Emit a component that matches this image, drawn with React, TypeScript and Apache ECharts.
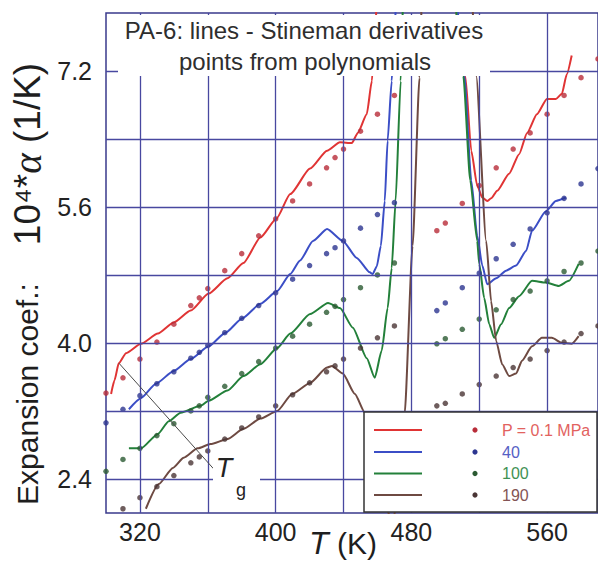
import React, { useEffect, useRef } from "react";
import * as echarts from "echarts";

// ---------- axis / tick values ----------
const xTickLabels = [320, 400, 480, 560];
const yTickLabels = [2.4, 4.0, 5.6, 7.2];
const xGridLines = [320, 360, 400, 440, 480, 520, 560];
const yGridLines = [2.4, 3.2, 4.0, 4.8, 5.6, 6.4, 7.2];

// ---------- lines (Stineman derivatives), [T (K), 10^4*alpha] ----------
const redLineLow = [[303, 3.4], [305, 3.56], [307.5, 3.76], [311.8, 3.88], [320.6, 3.99], [330.6, 4.11], [339.9, 4.24], [349.9, 4.38], [360.5, 4.58], [371.6, 4.76], [381, 4.94], [391, 5.24], [400.4, 5.46], [408.6, 5.75], [420.3, 6.05], [430.3, 6.26], [437.9, 6.36], [444.9, 6.35], [448.4, 6.47], [453.7, 6.69], [456.7, 7.08], [458.5, 7.6], [459.5, 8.0]];
const redLineHigh = [[506, 8.0], [511.8, 7.14], [515.3, 6.26], [518.8, 5.85], [521.8, 5.71], [524.7, 5.67], [527, 5.7], [530.6, 5.79], [537.6, 5.99], [543.5, 6.22], [548.2, 6.47], [554, 6.69], [559.9, 6.87], [565.2, 6.87], [568.7, 6.93], [571.6, 7.16], [574.5, 7.38]];
const blueLineLow = [[313.5, 3.22], [320.6, 3.35], [329.4, 3.52], [339.9, 3.67], [349.9, 3.81], [360.5, 3.96], [370.4, 4.12], [380.4, 4.29], [391, 4.46], [400.9, 4.61], [408.6, 4.81], [414.4, 4.97], [422, 5.2], [430.3, 5.34], [439.6, 5.2], [447.8, 5.0], [455.5, 4.83], [457.2, 4.81], [459.6, 4.9], [462, 5.14], [464.3, 5.67], [466, 6.38], [468.4, 7.08], [470, 7.7], [471, 8.0]];
const blueLineHigh = [[507, 8.0], [511.2, 7.14], [515.3, 5.91], [518.8, 5.26], [521.8, 4.91], [524.7, 4.69], [530, 4.76], [535.8, 4.85], [541.7, 4.91], [547.6, 5.08], [551.1, 5.32], [559.3, 5.55], [565.2, 5.67], [571, 5.71]];
const greenLineLow = [[313.5, 2.76], [320.6, 2.76], [330.6, 2.93], [337, 3.08], [344, 3.18], [355.8, 3.26], [360.5, 3.32], [371.6, 3.44], [381, 3.61], [391, 3.75], [400.9, 3.94], [408.6, 4.11], [420.3, 4.34], [430.9, 4.47], [437.9, 4.41], [445.5, 4.18], [453.7, 3.82], [458.4, 3.59], [462.5, 3.91], [466, 4.41], [468.4, 4.88], [470.7, 5.67], [473.7, 7.08], [475, 8.0]];
const greenLineHigh = [[506, 8.0], [510.6, 7.14], [514.7, 5.91], [518.8, 5.2], [520, 4.93], [522.9, 4.53], [525.9, 4.22], [528.8, 4.06], [532.9, 4.22], [537.6, 4.41], [543.5, 4.55], [551.1, 4.73], [559.3, 4.71], [566.9, 4.67], [572.8, 4.73], [578.6, 4.93]];
const brownLineLow = [[323.5, 2.05], [331.1, 2.34], [339.4, 2.53], [345.8, 2.65], [354, 2.76], [361.6, 2.81], [371.6, 2.87], [381, 2.99], [391, 3.11], [400.9, 3.2], [409.7, 3.4], [420.3, 3.53], [430.3, 3.71], [433.2, 3.73], [439.6, 3.64], [446.7, 3.4], [452.6, 3.18], [458, 2.7], [464, 2.1], [469, 1.9], [473, 2.3], [476, 3.16], [480.7, 5.14], [484.8, 7.12], [486, 8.0]];
const brownLineHigh = [[516, 8.0], [518.2, 7.14], [524.1, 5.2], [527, 4.49], [530, 4.02], [533.5, 3.75], [537.6, 3.61], [541.7, 3.64], [545.2, 3.79], [551.1, 3.96], [556.9, 4.06], [562.8, 4.06], [568.7, 4.0], [574.5, 3.99], [578.6, 4.08]];

// ---------- points from polynomials ----------
const tLow = [300, 310, 320, 330, 340, 350, 355, 360, 370, 380, 390, 400, 410, 420, 430, 435, 440, 450, 460, 470];
const redPtsLow = [3.41, 3.59, 3.81, 4.01, 4.22, 4.44, 4.53, 4.64, 4.85, 5.05, 5.26, 5.46, 5.67, 5.87, 6.06, 6.18, 6.28, 6.49, 6.69, 6.91];
const bluePtsLow = [3.06, 3.22, 3.38, 3.52, 3.66, 3.82, 3.89, 3.97, 4.12, 4.29, 4.44, 4.59, 4.75, 4.91, 5.05, 5.12, 5.2, 5.35, 5.51, 5.65];
const greenPtsLow = [2.49, 2.63, 2.76, 2.91, 3.05, 3.2, 3.26, 3.36, 3.49, 3.64, 3.78, 3.94, 4.08, 4.22, 4.36, 4.43, 4.51, 4.65, 4.8, 4.94];
const brownPtsLow = [null, 2.05, 2.18, 2.31, 2.44, 2.59, 2.66, 2.73, 2.87, 3.0, 3.13, 3.26, 3.39, 3.53, 3.66, 3.73, 3.81, 3.94, 4.06, 4.2];
const tHigh = [495, 500, 510, 520, 530, 540, 550, 560, 570, 580, 590];
const redPtsHigh = [5.32, 5.41, 5.64, 5.85, 6.06, 6.28, 6.47, 6.69, 6.91, 7.12, 7.34];
const bluePtsHigh = [4.38, 4.47, 4.65, 4.82, 4.99, 5.16, 5.34, 5.53, 5.7, 5.87, 6.05];
const greenPtsHigh = [3.99, 4.05, 4.16, 4.28, 4.39, 4.51, 4.61, 4.73, 4.84, 4.94, 5.08];
const brownPtsHigh = [3.26, 3.29, 3.4, 3.51, 3.61, 3.71, 3.81, 3.91, 4.01, 4.11, 4.2];

// ---------- Tg annotation ----------
const tgLineStart = [307.7, 3.76];
const tgLineEnd = [363.4, 2.52];

// ---------- legend labels ----------
const legendLabels = ["P = 0.1 MPa", "40", "100", "190"];

const FONT = "'Liberation Sans', Arial, Helvetica, sans-serif";
const GRID = "#4848a0";
const lineColors = ["#e03434", "#3b4ec6", "#23803a", "#6e4a42"];
const dotColors = ["#b82c38", "#2c3590", "#2b5a32", "#4a3434"];
const legendTextColors = ["#e2625e", "#5560c4", "#3f9154", "#845454"];

const pairs = (ts: number[], vs: (number | null)[]) =>
  ts.map((t, i) => [t, vs[i]]).filter((p) => p[1] !== null);

export default function App() {
  const ref = useRef<HTMLDivElement>(null);

  useEffect(() => {
    if (!ref.current) return;
    const chart = echarts.init(ref.current, null, { renderer: "svg" });

    const lineSeg = (data: number[][], color: string) => ({
      type: "line",
      data,
      showSymbol: false,
      smooth: 0.2,
      smoothMonotone: "x",
      z: 3,
      lineStyle: { color, width: 2 },
      itemStyle: { color },
      silent: true,
    });
    const dots = (data: any[], color: string) => ({
      type: "scatter",
      data,
      symbolSize: 5.5,
      z: 4,
      clip: false,
      itemStyle: { color },
      silent: true,
    });

    const legendTop = 412;
    const legendRows = [430, 452, 473.5, 495];
    const graphics: any[] = [
      // title box
      { type: "rect", z: 100, shape: { x: 118, y: 15, width: 372, height: 61 }, style: { fill: "#fff" } },
      { type: "text", z: 101, x: 304, y: 30, style: { text: "PA-6: lines - Stineman derivatives", fill: "#2e2e2e", font: `24px ${FONT}`, align: "center", verticalAlign: "middle" } },
      { type: "text", z: 101, x: 305, y: 61, style: { text: "points from polynomials", fill: "#2e2e2e", font: `24px ${FONT}`, align: "center", verticalAlign: "middle" } },
      // Tg label
      { type: "rect", z: 100, shape: { x: 213, y: 452, width: 47, height: 48 }, style: { fill: "#fff" } },
      { type: "text", z: 101, x: 224, y: 468, style: { text: "T", fill: "#222", font: `italic 27px ${FONT}`, align: "center", verticalAlign: "middle" } },
      { type: "text", z: 101, x: 241, y: 490, style: { text: "g", fill: "#222", font: `18px ${FONT}`, align: "center", verticalAlign: "middle" } },
      // legend box
      { type: "rect", z: 100, shape: { x: 364, y: legendTop, width: 233, height: 100 }, style: { fill: "#fff", stroke: "#333", lineWidth: 1.5 } },
      // y axis name
      { type: "text", z: 101, x: 27, y: 394, rotation: Math.PI / 2, style: { text: "Expansion coef.:", fill: "#1e1e1e", font: `30px ${FONT}`, align: "center", verticalAlign: "middle" } },
      {
        type: "text", z: 101, x: 27, y: 154, rotation: Math.PI / 2,
        style: {
          text: "{n|10⁴*}{a|α}{n| (1/K)}",
          align: "center", verticalAlign: "middle",
          rich: {
            n: { fill: "#1e1e1e", font: `37px ${FONT}` },
            a: { fill: "#1e1e1e", font: `italic 39px 'Liberation Serif', serif` },
          },
        },
      },
      // x axis name
      {
        type: "text", z: 101, x: 343, y: 543,
        style: {
          text: "{t|T}{n| (K)}",
          align: "center", verticalAlign: "middle",
          rich: {
            t: { fill: "#1e1e1e", font: `italic 32px ${FONT}` },
            n: { fill: "#1e1e1e", font: `30px ${FONT}` },
          },
        },
      },
    ];
    legendLabels.forEach((lab, i) => {
      const y = legendRows[i];
      graphics.push(
        { type: "line", z: 101, shape: { x1: 374, y1: y, x2: 422, y2: y }, style: { stroke: lineColors[i], lineWidth: 2 } },
        { type: "circle", z: 101, shape: { cx: 475, cy: y, r: 2.6 }, style: { fill: dotColors[i] } },
        { type: "text", z: 101, x: 502, y, style: { text: lab, fill: legendTextColors[i], font: `16px ${FONT}`, align: "left", verticalAlign: "middle" } }
      );
    });

    const option: any = {
      animation: false,
      backgroundColor: "#fff",
      grid: { left: 106, right: 0, top: 13, bottom: 52, show: true, borderColor: "#3a3a8c", borderWidth: 1.5, backgroundColor: "transparent" },
      xAxis: {
        type: "value", min: 300, max: 590,
        splitLine: { show: false }, axisLine: { show: false }, axisTick: { show: false },
        axisLabel: { customValues: xTickLabels, fontSize: 25, color: "#222", margin: 6, fontFamily: FONT },
      },
      yAxis: {
        type: "value", min: 2.0, max: 7.88,
        splitLine: { show: false }, axisLine: { show: false }, axisTick: { show: false },
        axisLabel: { customValues: yTickLabels, fontSize: 25, color: "#222", margin: 14, fontFamily: FONT, formatter: (v: number) => v.toFixed(1) },
      },
      series: [
        {
          type: "line", data: [], z: 1, silent: true,
          markLine: {
            silent: true, symbol: ["none", "none"], label: { show: false },
            lineStyle: { color: GRID, width: 1.3, type: "solid" },
            data: [...xGridLines.map((v) => ({ xAxis: v })), ...yGridLines.map((v) => ({ yAxis: v }))],
          },
        },
        {
          type: "line", data: [], z: 2, silent: true,
          markLine: {
            silent: true, symbol: ["none", "none"], label: { show: false },
            lineStyle: { color: "#4a4a4a", width: 1, type: "solid" },
            data: [[{ coord: tgLineStart }, { coord: tgLineEnd }]],
          },
        },
        lineSeg(redLineLow, lineColors[0]),
        lineSeg(redLineHigh, lineColors[0]),
        lineSeg(blueLineLow, lineColors[1]),
        lineSeg(blueLineHigh, lineColors[1]),
        lineSeg(greenLineLow, lineColors[2]),
        lineSeg(greenLineHigh, lineColors[2]),
        lineSeg(brownLineLow, lineColors[3]),
        lineSeg(brownLineHigh, lineColors[3]),
        dots([...pairs(tLow, redPtsLow), ...pairs(tHigh, redPtsHigh)], dotColors[0]),
        dots([...pairs(tLow, bluePtsLow), ...pairs(tHigh, bluePtsHigh)], dotColors[1]),
        dots([...pairs(tLow, greenPtsLow), ...pairs(tHigh, greenPtsHigh)], dotColors[2]),
        dots([...pairs(tLow, brownPtsLow), ...pairs(tHigh, brownPtsHigh)], dotColors[3]),
      ],
      graphic: { elements: graphics },
    };
    chart.setOption(option);
    return () => chart.dispose();
  }, []);

  return (
    <div
      ref={ref}
      style={{ position: "fixed", left: 0, top: 0, width: 598, height: 565, background: "#fff" }}
    />
  );
}
